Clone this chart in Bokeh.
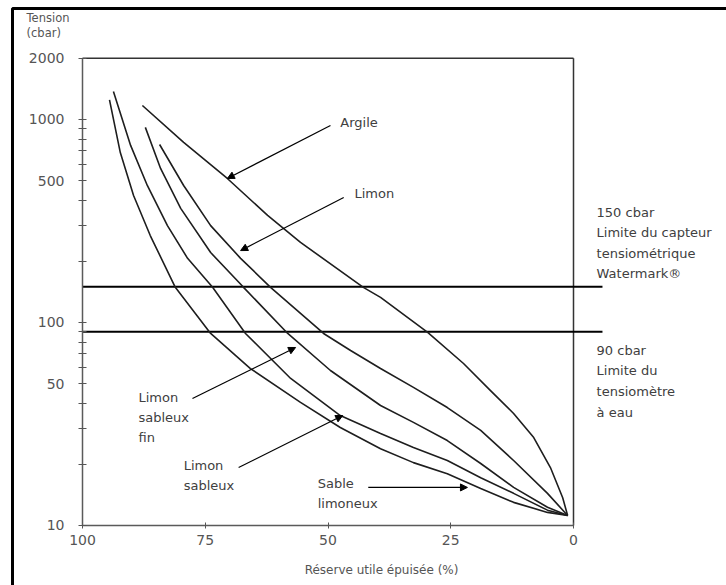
from bokeh.plotting import figure
from bokeh.models import (FixedTicker, Label, Arrow, NormalHead, BoxAnnotation,
                          Range1d, BasicTickFormatter)
from bokeh.embed import file_html
from bokeh.resources import INLINE

# ---------------- data ----------------
x_ticks = [100, 75, 50, 25, 0]
y_ticks = [10, 50, 100, 500, 1000, 2000]
y_minor = [20, 30, 40, 60, 70, 80, 90, 200, 300, 400, 600, 700, 800, 900]

sable_limoneux_x = [94.5, 92.3, 89.6, 86.2, 81.1, 73.9, 65.8, 55.6, 47.5, 39.3, 32.6, 25.7, 18.9, 12.2, 5.3, 1.2]
sable_limoneux_y = [1250, 687, 422, 268, 149, 88.3, 59.3, 40.4, 30.4, 23.9, 20.4, 18.0, 15.2, 13.0, 11.6, 11.2]

limon_sableux_x = [93.7, 90.2, 86.8, 82.7, 78.6, 73.5, 66.8, 57.6, 47.5, 39.3, 32.6, 25.7, 18.9, 12.2, 5.3, 1.2]
limon_sableux_y = [1374, 745, 473, 300, 207, 149, 88.3, 53.0, 34.8, 28.4, 24.2, 20.9, 17.2, 14.4, 11.9, 11.2]

limon_sableux_fin_x = [87.2, 84.1, 80.0, 73.9, 67.2, 58.2, 49.5, 39.3, 32.6, 25.7, 18.9, 12.2, 5.3, 1.2]
limon_sableux_fin_y = [914, 574, 365, 221, 149, 88.3, 58.0, 39.0, 32.2, 26.2, 20.2, 15.4, 12.3, 11.2]

limon_x = [84.3, 79.4, 73.9, 67.8, 61.7, 50.9, 45.4, 39.3, 32.6, 25.7, 18.9, 12.2, 5.3, 1.2]
limon_y = [753, 473, 300, 207, 149, 88.3, 72.8, 59.3, 47.9, 38.1, 29.4, 20.9, 14.4, 11.2]

argile_x = [87.8, 79.4, 70.5, 62.3, 55.6, 42.8, 39.3, 29.7, 22.4, 16.9, 12.2, 8.1, 4.7, 2.2, 1.2]
argile_y = [1172, 771, 512, 337, 248, 149, 133, 89.3, 62.8, 46.2, 35.6, 27.1, 19.3, 13.7, 11.2]

limits = [150, 90]

FONT = "DejaVu Sans"
TXT = "#404040"
CURVE = "#1e1e1e"

# the plotting frame covers the whole page; axes are pinned at x=100 and y=10
p = figure(width=726, height=585, output_backend="svg", toolbar_location=None,
           y_axis_type="log", x_range=Range1d(116.70, -31.16), y_range=Range1d(5.063, 3855),
           min_border=0, min_border_left=0, min_border_right=0,
           min_border_top=0, min_border_bottom=0)
p.outline_line_color = None
p.grid.visible = False
p.background_fill_color = "white"
p.border_fill_color = "white"

# axes
p.xaxis.fixed_location = 10
p.xaxis.ticker = FixedTicker(ticks=x_ticks)
p.xaxis.bounds = (0, 100)
p.xaxis.axis_line_color = "#5a5a5a"
p.xaxis.axis_line_width = 1.5
p.xaxis.major_tick_in = 3
p.xaxis.major_tick_out = 3
p.xaxis.minor_tick_in = 0
p.xaxis.minor_tick_out = 0
p.xaxis.major_tick_line_color = "#555555"
p.xaxis.major_label_standoff = 7
p.xaxis.major_label_text_font = FONT
p.xaxis.major_label_text_font_size = "14px"
p.xaxis.major_label_text_color = "#555555"

p.yaxis.fixed_location = 100
p.yaxis.ticker = FixedTicker(ticks=y_ticks, minor_ticks=y_minor)
p.yaxis.formatter = BasicTickFormatter(use_scientific=False)
p.yaxis.bounds = (10, 2000)
p.yaxis.axis_line_color = "#5a5a5a"
p.yaxis.axis_line_width = 1.5
p.yaxis.major_tick_in = 4
p.yaxis.major_tick_out = 4
p.yaxis.minor_tick_in = 4
p.yaxis.minor_tick_out = 4
p.yaxis.major_tick_line_color = "#555555"
p.yaxis.minor_tick_line_color = "#555555"
p.yaxis.major_label_standoff = 14
p.yaxis.major_label_text_font = FONT
p.yaxis.major_label_text_font_size = "14px"
p.yaxis.major_label_text_color = "#555555"

# plot box (top and right edges)
p.line([100, 0], [2000, 2000], line_color="#333333", line_width=1.5)
p.line([0, 0], [10, 2000], line_color="#333333", line_width=1.5)

# limit lines (extend a little to the right of the box)
p.segment(x0=[100] * len(limits), x1=[-5.9] * len(limits), y0=limits, y1=limits,
          line_color="black", line_width=2)

# curves
for xs, ys in [(sable_limoneux_x, sable_limoneux_y), (limon_sableux_x, limon_sableux_y),
               (limon_sableux_fin_x, limon_sableux_fin_y), (limon_x, limon_y),
               (argile_x, argile_y)]:
    p.line(xs, ys, line_color=CURVE, line_width=1.6)

def lab(x, y, t, size="13px", color=TXT, align="left", baseline="middle"):
    p.add_layout(Label(x=x, y=y, text=t, text_font=FONT, text_font_size=size,
                       text_color=color, text_align=align, text_baseline=baseline))

def arr(x0, y0, x1, y1):
    p.add_layout(Arrow(end=NormalHead(size=7, fill_color="black", line_color="black"),
                       x_start=x0, y_start=y0, x_end=x1, y_end=y1,
                       line_color="black", line_width=1.2))

# curve labels and arrows
lab(47.5, 966, "Argile")
arr(49.5, 934, 70.5, 512)
lab(44.6, 432, "Limon")
arr(46.8, 413, 67.8, 226)
lab(88.6, 42.7, "Limon")
lab(88.6, 34.0, "sableux")
lab(88.6, 27.1, "fin")
arr(77.6, 42.2, 56.6, 75.3)
lab(79.4, 19.8, "Limon")
lab(79.4, 15.7, "sableux")
arr(68.2, 19.3, 47.0, 34.8)
lab(52.1, 16.1, "Sable")
lab(52.1, 12.8, "limoneux")
arr(41.8, 15.4, 21.6, 15.4)

# right side notes
for yy, t in [(348, "150 cbar"), (277, "Limite du capteur"), (219, "tensiométrique"), (174, "Watermark®")]:
    lab(-4.7, yy, t)
for yy, t in [(72.8, "90 cbar"), (58.0, "Limite du"), (45.7, "tensiomètre"), (36.0, "à eau")]:
    lab(-4.7, yy, t)

# axis titles
lab(111.4, 3145, "Tension", size="11.5px", color="#555555")
lab(111.4, 2652, "(cbar)", size="11.5px", color="#555555")
lab(39.1, 6.07, "Réserve utile épuisée (%)", size="12px", color="#555555", align="center")

# outer frame of the figure
p.add_layout(BoxAnnotation(left=114.26, right=-40, top=3524, bottom=4, fill_alpha=0,
                           line_color="black", line_width=3, line_alpha=1))

open("out.html", "w").write(file_html(p, INLINE))
